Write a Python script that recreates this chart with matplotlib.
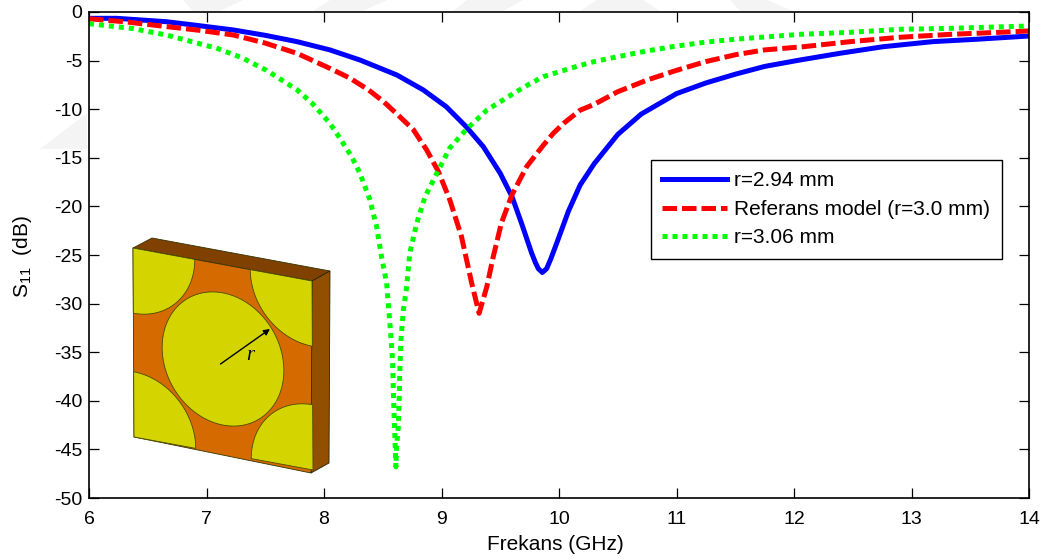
#S11 curves for three values of r, with the unit cell sketch on top
from matplotlib import pyplot as plt
from matplotlib.patches import Polygon
import numpy as np

plt.rcParams['font.family'] = ['Liberation Sans', 'DejaVu Sans']
plt.rcParams['mathtext.default'] = 'regular'
plt.rcParams['axes.unicode_minus'] = False

blue_x = [6, 6.235, 6.66, 6.9, 7.23, 7.5, 7.77, 8.05, 8.306, 8.62, 8.845, 9.04, 9.21, 9.356, 9.5, 9.6, 9.68, 9.767, 9.8, 9.824, 9.858, 9.895, 9.93, 9.98, 10.08, 10.18, 10.3, 10.5, 10.7, 11, 11.25, 11.5, 11.75, 12.05, 12.39, 12.76, 13.18, 13.56, 14]
blue_y = [-0.65, -0.65, -1.0, -1.35, -1.85, -2.4, -3.05, -3.9, -4.94, -6.48, -8.02, -9.74, -11.8, -13.86, -16.6, -19.0, -21.7, -24.8, -25.8, -26.4, -26.8, -26.4, -25.4, -23.8, -20.5, -17.8, -15.6, -12.6, -10.5, -8.4, -7.3, -6.4, -5.6, -4.94, -4.25, -3.57, -3.05, -2.8, -2.47]

red_x = [6, 6.3, 6.66, 6.95, 7.23, 7.5, 7.77, 8.05, 8.22, 8.377, 8.505, 8.63, 8.76, 8.874, 8.973, 9.07, 9.17, 9.257, 9.32, 9.385, 9.44, 9.51, 9.6, 9.725, 9.867, 9.95, 10.04, 10.18, 10.3, 10.5, 10.75, 11, 11.25, 11.5, 11.75, 12.08, 12.48, 12.9, 13.33, 13.75, 14]
red_y = [-0.7, -1.0, -1.5, -1.9, -2.37, -3.2, -4.25, -5.8, -6.8, -8.0, -9.2, -10.6, -12.1, -14.2, -16.4, -19.3, -23.1, -27.9, -31, -28.3, -25.2, -21.7, -18.8, -15.9, -13.7, -12.5, -11.45, -10.1, -9.5, -8.2, -7, -6, -5.1, -4.4, -3.9, -3.57, -3.05, -2.6, -2.3, -2.09, -1.95]

green_x = [6, 6.37, 6.66, 7.09, 7.3, 7.51, 7.77, 7.9, 8.05, 8.136, 8.236, 8.306, 8.39, 8.448, 8.49, 8.533, 8.547, 8.567, 8.584, 8.59, 8.598, 8.604, 8.612, 8.618, 8.632, 8.64, 8.646, 8.655, 8.675, 8.70, 8.73, 8.79, 8.86, 8.96, 9.07, 9.21, 9.385, 9.61, 9.75, 9.867, 10.15, 10.3, 10.5, 10.75, 11, 11.25, 11.5, 12.05, 12.48, 12.9, 13.33, 14]
green_y = [-1.2, -1.7, -2.37, -3.74, -4.7, -6.0, -8.0, -9.4, -11.45, -13, -14.9, -16.6, -19.3, -22.1, -25.2, -27.9, -30, -33, -36, -38.9, -42, -44, -46.8, -44.7, -42.7, -39.7, -36.7, -33.7, -30.7, -28.6, -24.8, -21.7, -19, -16.6, -14, -12.1, -10.1, -8.4, -7.4, -6.65, -5.6, -5.1, -4.6, -4, -3.5, -3.1, -2.8, -2.3, -2.09, -1.78, -1.68, -1.44]

x_ticks = [6, 7, 8, 9, 10, 11, 12, 13, 14]
y_ticks = [0, -5, -10, -15, -20, -25, -30, -35, -40, -45, -50]

fig = plt.figure(figsize=(10.48, 5.6), dpi=100)
ax = fig.add_axes([89/1048, 62/560, 940/1048, 486/560])

ax.plot(blue_x, blue_y, color='#0000ff', lw=3.6, label='r=2.94 mm', solid_joinstyle='round')
ax.plot(red_x, red_y, color='#ff0000', lw=3.6, linestyle=(0, (2.9, 1.0)), label='Referans model (r=3.0 mm)', dash_capstyle='butt', dash_joinstyle='round')
ax.plot(green_x, green_y, color='#00ff00', lw=3.6, linestyle=(0, (1, 1.0)), label='r=3.06 mm', dash_capstyle='butt')

ax.set_xlim(6, 14)
ax.set_ylim(-50, 0)
ax.set_xticks(x_ticks)
ax.set_xticklabels([str(v) for v in x_ticks])
ax.set_yticks(y_ticks)
ax.set_yticklabels([str(v) for v in y_ticks])
ax.tick_params(direction='in', length=7, width=0.9, top=True, right=True, labelsize=14)
ax.tick_params(axis='x', pad=9)
ax.tick_params(axis='y', pad=5)
for s in ax.spines.values():
	s.set_linewidth(1.2)

fig.text(555/1048, 1-545/560, 'Frekans (GHz)', fontsize=15, ha='center', va='center')
fig.text(23/1048, 1-257/560, 'S$_{11}$  (dB)', fontsize=15, ha='center', va='center', rotation=90)

leg = ax.legend(loc='upper left', bbox_to_anchor=(651/1048, 1-160/560), bbox_transform=fig.transFigure, fontsize=15,
	frameon=True, fancybox=False, framealpha=1, edgecolor='black', handlelength=3.1, handletextpad=0.34,
	labelspacing=0.45, borderpad=0.55, borderaxespad=0)
leg.get_frame().set_linewidth(1.0)

# overlay in pixel coordinates for the watermark and the unit cell sketch
ov = fig.add_axes([0, 0, 1, 1], zorder=5)
ov.set_xlim(0, 1048)
ov.set_ylim(560, 0)
ov.axis('off')

watermark = [
	[(183, 0), (243, 0), (220, 11), (193, 11)],
	[(330, 0), (387, 0), (363, 11), (313, 11)],
	[(467, 0), (523, 0), (503, 11), (453, 11)],
	[(597, 0), (643, 0), (660, 11), (580, 11)],
	[(730, 0), (767, 0), (793, 11), (740, 11)],
	[(40, 149), (87, 149), (87, 113)],
]
for w in watermark:
	ov.add_patch(Polygon(w, closed=True, fc='#f4f4f4', ec='none'))

p0 = np.array([133, 248])
p1 = np.array([312, 281])
p3 = np.array([134, 437])
edge = '#4a4a00'

def face(u, v):
	return p0[0] + u*(p1[0]-p0[0]) + v*(p3[0]-p0[0]), p0[1] + u*(p1[1]-p0[1]) + v*(p3[1]-p0[1])

def corner(cu, cv, a0, a1, r=0.345):
	t = np.radians(np.linspace(a0, a1, 40))
	x, y = face(cu + r*np.cos(t), cv + r*np.sin(t))
	pts = [face(cu, cv)] + list(zip(x, y))
	return pts

ov.add_patch(Polygon([(133, 248), (152, 238), (330, 271), (312, 281)], fc='#804000', ec='#333300', lw=0.6))
ov.add_patch(Polygon([(312, 281), (330, 271), (329, 463), (311, 473)], fc='#934f00', ec='#222200', lw=0.6))
ov.add_patch(Polygon([(133, 248), (312, 281), (311, 473), (134, 437)], fc='#d46a00', ec='#333300', lw=0.6))
for cu, cv, a0, a1 in [(0, 0, 0, 90), (1, 0, 90, 180), (1, 1, 180, 270), (0, 1, 270, 360)]:
	ov.add_patch(Polygon(corner(cu, cv, a0, a1), fc='#d4d400', ec=edge, lw=0.6))
t = np.radians(np.linspace(0, 360, 120))
cx, cy = face(0.5 + 0.34*np.cos(t), 0.5 + 0.35*np.sin(t))
ov.add_patch(Polygon(list(zip(cx, cy)), fc='#d4d400', ec=edge, lw=0.6))

ov.annotate('', xy=(270, 329), xytext=(220.5, 364), arrowprops=dict(arrowstyle='-|>', color='black', lw=1.0, mutation_scale=9, shrinkA=0, shrinkB=0))
ov.text(250, 355, 'r', fontsize=15, style='italic', family='Liberation Serif', ha='center', va='center')

fig.savefig('out.png', dpi=100)
